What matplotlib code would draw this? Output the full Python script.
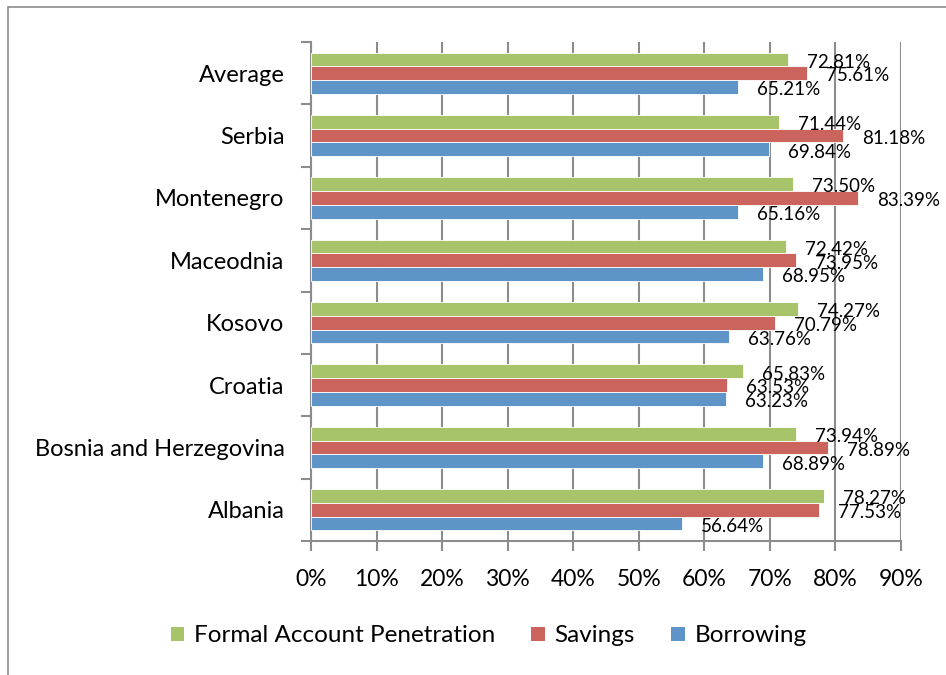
import matplotlib
matplotlib.use("Agg")
import matplotlib.pyplot as plt
import numpy as np
from matplotlib.patches import Rectangle, Patch

plt.rcParams['font.family'] = ['Lato', 'DejaVu Sans']

categories = ["Albania", "Bosnia and Herzegovina", "Croatia", "Kosovo",
              "Maceodnia", "Montenegro", "Serbia", "Average"]
formal_account = [78.27, 73.94, 65.83, 74.27, 72.42, 73.50, 71.44, 72.81]
savings = [77.53, 78.89, 63.53, 70.79, 73.95, 83.39, 81.18, 75.61]
borrowing = [56.64, 68.89, 63.23, 63.76, 68.95, 65.16, 69.84, 65.21]
series_names = ["Formal Account Penetration", "Savings", "Borrowing"]
xticks = [0, 10, 20, 30, 40, 50, 60, 70, 80, 90]

colors = ['#A8C46A', '#CC645E', '#5E94C8']

fig = plt.figure(figsize=(9.46, 6.75), dpi=100)
ax = fig.add_axes([311/946, 1-541/675, (901-311)/946, (541-42)/675])

y = np.arange(len(categories))
h = 0.221
series = [formal_account, savings, borrowing]
offsets = [h, 0, -h]
for vals, off, c in zip(series, offsets, colors):
    ax.barh(y + off, vals, height=h, color=c, edgecolor='white', linewidth=0.6, zorder=3)
    for yi, v in zip(y, vals):
        ax.text(v + 2.9, yi + off - 0.045, f"{v:.2f}%", ha='left', va='center',
                fontsize=13.5, color='black', zorder=5)

ax.set_xlim(0, 90)
ax.set_ylim(-0.5, len(categories) - 0.5)
ax.set_xticks(xticks)
ax.set_xticklabels([f"{t}%" for t in xticks], fontsize=16.5)
ax.set_yticks(y)
ax.set_yticklabels(categories, fontsize=17)
ax.set_yticks(np.arange(len(categories) + 1) - 0.5, minor=True)
ax.tick_params(axis='y', which='major', length=0, pad=19)
ax.tick_params(axis='y', which='minor', length=7, width=1.5, color='#8C8C8C', direction='out')
ax.tick_params(axis='x', which='major', length=7, width=1.5, color='#8C8C8C', direction='out', pad=13)

ax.grid(axis='x', color='#8C8C8C', linewidth=1.5, zorder=0)
ax.set_axisbelow(True)
for s in ['top', 'right']:
    ax.spines[s].set_visible(False)
for s in ['left', 'bottom']:
    ax.spines[s].set_color('#8C8C8C')
    ax.spines[s].set_linewidth(1.5)

handles = [Patch(facecolor=c, edgecolor='none') for c in colors]
fig.legend(handles, series_names, loc='center', bbox_to_anchor=(488.5/946, 1-636/675),
           ncol=3, frameon=False, fontsize=17.5, handlelength=0.55, handleheight=0.55,
           handletextpad=0.4, columnspacing=1.5)

frame = Rectangle((8/946, -0.05), 1.1, 1 - 7/675 + 0.05, transform=fig.transFigure,
                  fill=False, edgecolor='#8C8C8C', linewidth=1.2, clip_on=False)
fig.patches.append(frame)

fig.savefig("out.png", dpi=100)
